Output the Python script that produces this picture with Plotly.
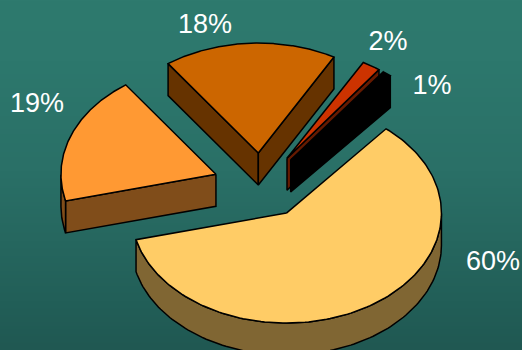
import numpy as np
import plotly.graph_objects as go

# Chart content
labels = ["60%", "19%", "18%", "2%", "1%"]
shares = [60, 19, 18, 2, 1]
top_colors = ["#FFCC66", "#FF9933", "#CC6600", "#CC3300", "#000000"]
side_colors = ["#806633", "#804D1A", "#663300", "#661A00", "#000000"]

# Pie projection, in pixels of the 522x350 canvas
WIDTH, HEIGHT = 522, 350
CX, CY = 261, 185.5
RX, RY = 155, 110
EXPLODE_X, EXPLODE_Y = 48, 32.5
DEPTH = 32
START_ANGLE = 50.0  # degrees, slices run clockwise from here

# Label anchors around the pie
label_x = [493, 37, 205, 388, 432]
label_y = [263, 105, 26, 43, 87]

bg_stops_y = [0, 60, 170, 240, 300, 350]
bg_stops_rgb = [
    (46, 122, 110), (45, 120, 109), (42, 112, 103),
    (38, 103, 95), (34, 95, 88), (32, 88, 82),
]


def rim(cx, cy, angles):
    rad = np.radians(angles)
    return cx + RX * np.cos(rad), cy - RY * np.sin(rad)


def add_poly(fig, xs, ys, fill):
    fig.add_trace(go.Scatter(
        x=np.r_[xs, xs[0]], y=np.r_[ys, ys[0]], mode="lines", fill="toself",
        fillcolor=fill, line=dict(color="#000000", width=1.5),
        hoverinfo="skip", showlegend=False,
    ))


def add_slice(fig, a0, a1, top, side):
    """Draw one exploded wedge sweeping clockwise from a0 down to a1."""
    mid = (a0 + a1) / 2
    cx = CX + EXPLODE_X * np.cos(np.radians(mid))
    cy = CY - EXPLODE_Y * np.sin(np.radians(mid))
    mx, my = rim(cx, cy, np.array([mid]))

    # Straight cut faces that look towards the viewer
    for edge in (a0, a1):
        px, py = rim(cx, cy, np.array([edge]))
        nx, ny = -(py[0] - cy), px[0] - cx
        if nx * (mx[0] - cx) + ny * (my[0] - cy) > 0:
            nx, ny = -nx, -ny
        if ny > 0:
            add_poly(fig, np.array([cx, px[0], px[0], cx]),
                     np.array([cy, py[0], py[0] + DEPTH, cy + DEPTH]), side)

    # Outer wall, only where the rim lies on the lower half of the ellipse
    angles = np.linspace(a0, a1, 160)
    angles = angles[np.sin(np.radians(angles)) <= 0]
    if angles.size > 1:
        wx, wy = rim(cx, cy, angles)
        add_poly(fig, np.r_[wx, wx[::-1]], np.r_[wy, wy[::-1] + DEPTH], side)

    # Top face
    tx, ty = rim(cx, cy, np.linspace(a0, a1, 160))
    add_poly(fig, np.r_[cx, tx], np.r_[cy, ty], top)


fig = go.Figure()

# Vertical background gradient
rows = np.arange(0, HEIGHT + 1)
bg = np.stack([np.interp(rows, bg_stops_y, [c[i] for c in bg_stops_rgb]) for i in range(3)], axis=1)
fig.add_trace(go.Image(z=np.repeat(bg[:, None, :], 2, axis=1).astype(np.uint8),
                       x0=0, dx=WIDTH, y0=0, dy=1, hoverinfo="skip"))

# Wedge sweep limits from the shares
sweeps = np.array(shares) / sum(shares) * 360
ends = START_ANGLE - np.cumsum(sweeps)
starts = ends + sweeps

# Painted back to front so nearer wedges cover farther ones
for i in (1, 2, 3, 4, 0):
    add_slice(fig, starts[i], ends[i], top_colors[i], side_colors[i])

fig.add_trace(go.Scatter(
    x=label_x, y=label_y, text=labels, mode="text",
    textfont=dict(family="Liberation Sans", size=27, color="#FFFFFF"),
    hoverinfo="skip", showlegend=False,
))

fig.update_layout(
    width=WIDTH, height=HEIGHT, margin=dict(l=0, r=0, t=0, b=0),
    paper_bgcolor="#2A7065", plot_bgcolor="rgba(0,0,0,0)", showlegend=False,
    xaxis=dict(range=[0, WIDTH], visible=False, fixedrange=True),
    yaxis=dict(range=[HEIGHT, 0], visible=False, fixedrange=True),
)
fig.write_html("out.html", config={"displayModeBar": False})
